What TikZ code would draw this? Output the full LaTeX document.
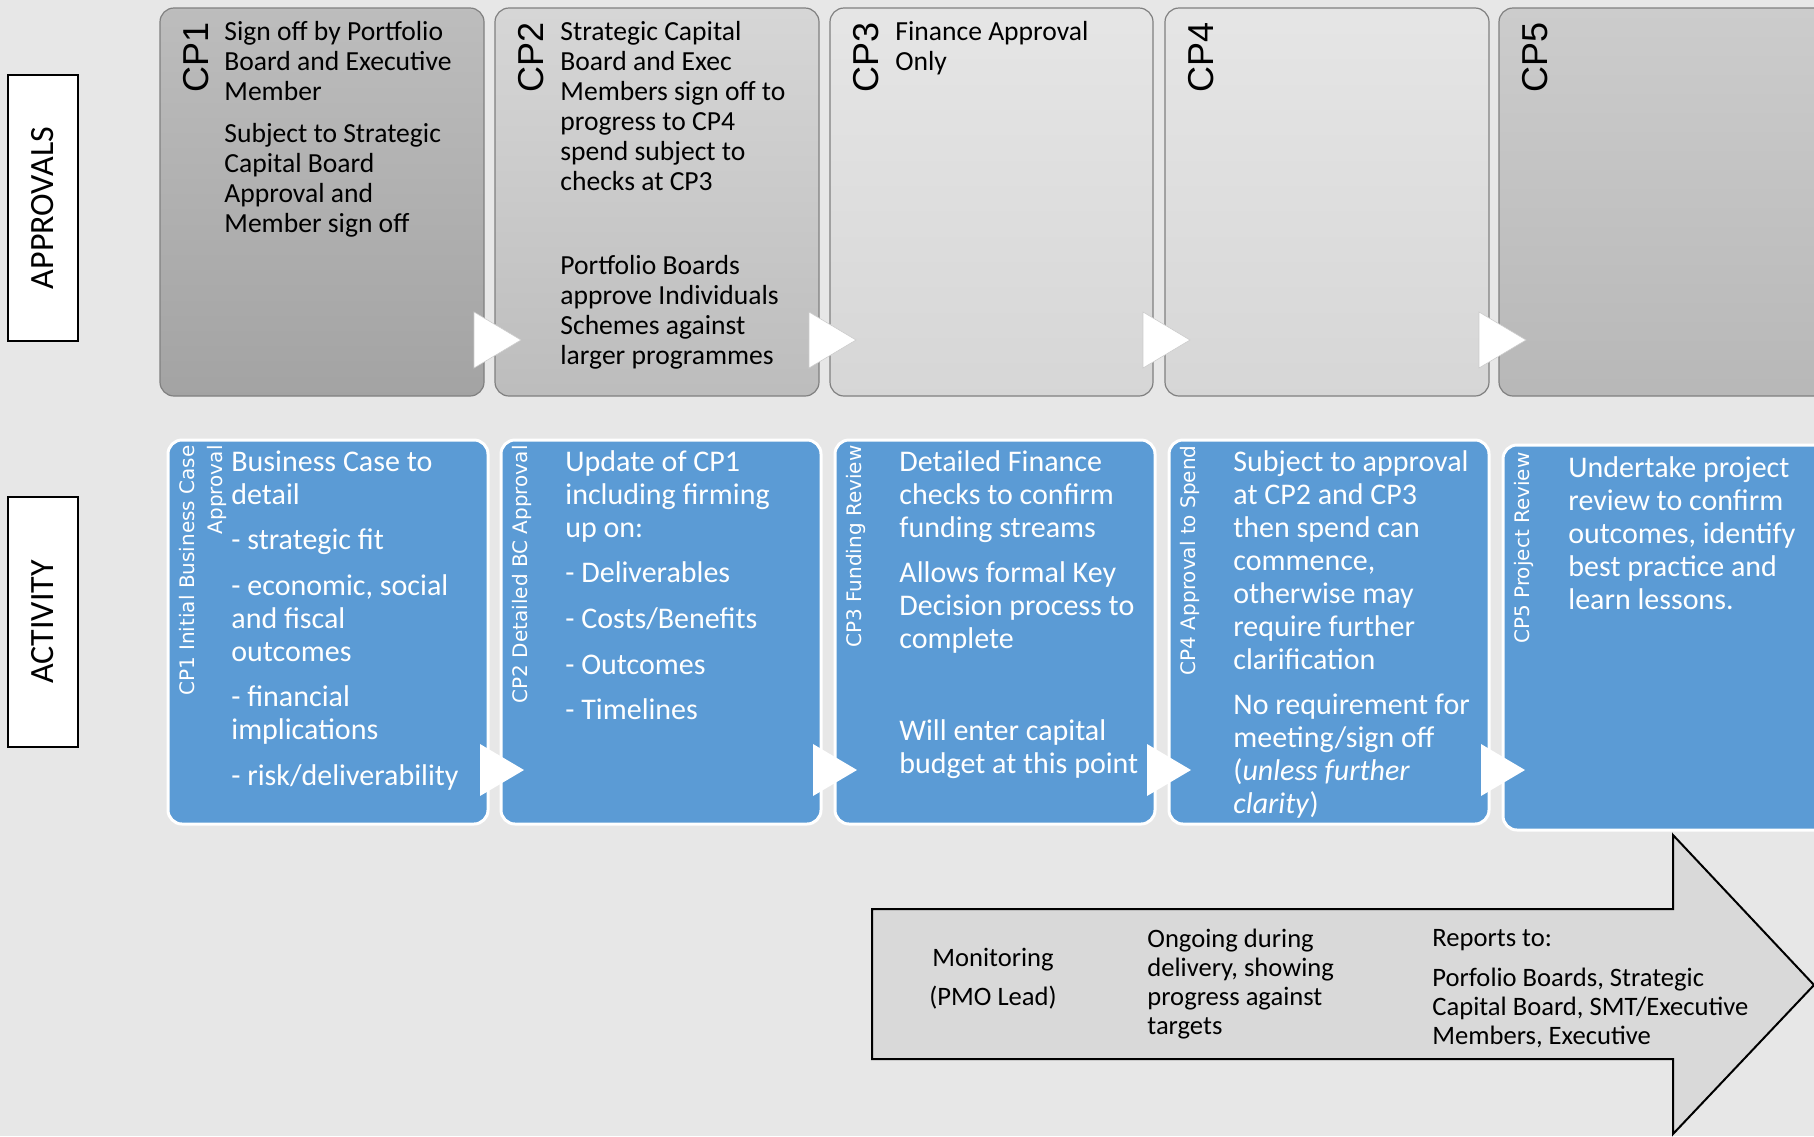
\documentclass[tikz,border=0pt]{standalone}
\usepackage{fontspec}
\setmainfont{Carlito}
\newfontfamily\cpfont{Liberation Sans}
\newfontfamily\tabfont{DejaVu Sans}
\usetikzlibrary{positioning}

\definecolor{bgcol}{RGB}{231,231,231}
\definecolor{actblue}{RGB}{91,155,213}
\definecolor{boxedge}{RGB}{128,128,128}

\tikzset{
  apbox/.style={draw=boxedge, rounded corners=7pt, line width=0.6pt},
  actbox/.style={fill=actblue, draw=white, line width=1.5pt, rounded corners=7pt},
  cplabel/.style={rotate=90, anchor=east, inner sep=0pt, font=\cpfont\fontsize{18}{18}\selectfont},
  tablabel/.style={rotate=90, anchor=north east, inner sep=0pt, align=right, text=white, font=\tabfont\fontsize{10}{14}\selectfont},
  aptext/.style={anchor=north west, inner sep=0pt, align=left, font=\fontsize{13.8}{15}\selectfont},
  acttext/.style={anchor=north west, inner sep=0pt, align=left, text=white, font=\fontsize{15}{16.5}\selectfont},
  montext/.style={anchor=north west, inner sep=0pt, align=left, font=\fontsize{13.3}{14.5}\selectfont},
  chev/.style={fill=white, draw=gray!40, line width=0.3pt},
  sidebox/.style={draw=black, fill=white, line width=0.8pt},
  sidetext/.style={rotate=90, inner sep=0pt, font=\fontsize{17}{17}\selectfont}
}

\begin{document}
\begin{tikzpicture}[x=0.5pt, y=-0.5pt]
      \fill[bgcol] (0,0) rectangle (1814,1136);
      \path[use as bounding box] (0,0) rectangle (1814,1136);
      \clip (0,0) rectangle (1814,1136);

      % side labels
      \draw[sidebox] (8,75) rectangle (78,341);
      \node[sidetext] (approvals) at (43,208) {APPROVALS};
      \draw[sidebox] (8,497) rectangle (78,747);
      \node[sidetext] (activity) at (43,622) {ACTIVITY};

      % approvals row
      \draw[apbox, top color=black!26, bottom color=black!36] (160,8) rectangle (484,396);
      \draw[apbox, top color=black!16, bottom color=black!26] (495,8) rectangle (819,396);
      \draw[apbox, top color=black!10, bottom color=black!16] (830,8) rectangle (1153,396);
      \draw[apbox, top color=black!10, bottom color=black!16] (1165,8) rectangle (1489,396);
      \draw[apbox, top color=black!20, bottom color=black!28] (1499,8) rectangle (1840,396);

      \foreach \r in {484,819,1153,1489}
        \draw[chev] (\r-10,312) -- (\r+37,340) -- (\r-10,368) -- cycle;

      \node[cplabel] (cp1) at (196,22) {CP1};
      \node[cplabel] (cp2) at (531,22) {CP2};
      \node[cplabel] (cp3) at (866,22) {CP3};
      \node[cplabel] (cp4) at (1201,22) {CP4};
      \node[cplabel] (cp5) at (1535,22) {CP5};

      \node[aptext] (ap1txt) at (224,20.5) {Sign off by Portfolio\\Board and Executive\\Member\\[6.4pt]Subject to Strategic\\Capital Board\\Approval and\\Member sign off};
      \node[aptext] (ap2txt) at (560,20.5) {Strategic Capital\\Board and Exec\\Members sign off to\\progress to CP4\\spend subject to\\checks at CP3\\[27pt]Portfolio Boards\\approve Individuals\\Schemes against\\larger programmes};
      \node[aptext] (ap3txt) at (895,20.5) {Finance Approval\\Only};

      % activity row
      \draw[actbox] (168,440) rectangle (488,824);
      \draw[actbox] (501,440) rectangle (821,824);
      \draw[actbox] (835,440) rectangle (1155,824);
      \draw[actbox] (1169,440) rectangle (1489,824);
      \draw[actbox] (1503,445) rectangle (1840,830);

      \foreach \r in {488,821,1155,1489}
        \fill[white] (\r-8,744) -- (\r+36,770) -- (\r-8,796) -- cycle;

      \node[tablabel] (tab1) at (179,445) {CP1 Initial Business Case\\Approval};
      \node[tablabel] (tab2) at (512,445) {CP2 Detailed BC Approval};
      \node[tablabel] (tab3) at (846,445) {CP3 Funding Review};
      \node[tablabel] (tab4) at (1180,445) {CP4 Approval to Spend};
      \node[tablabel] (tab5) at (1514,452) {CP5 Project Review};

      \node[acttext] (act1txt) at (231,450) {Business Case to\\detail\\[6.3pt]- strategic fit\\[6.3pt]- economic, social\\and fiscal\\outcomes\\[6.3pt]- financial\\implications\\[6.3pt]- risk/deliverability};
      \node[acttext] (act2txt) at (565,450) {Update of CP1\\including firming\\up on:\\[6.3pt]- Deliverables\\[6.3pt]- Costs/Benefits\\[6.3pt]- Outcomes\\[6.3pt]- Timelines};
      \node[acttext] (act3txt) at (899,450) {Detailed Finance\\checks to confirm\\funding streams\\[6.3pt]Allows formal Key\\Decision process to\\complete\\[29.5pt]Will enter capital\\budget at this point};
      \node[acttext] (act4txt) at (1233,450) {Subject to approval\\at CP2 and CP3\\then spend can\\commence,\\otherwise may\\require further\\clarification\\[6.3pt]No requirement for\\meeting/sign off\\(\textit{unless further}\\\textit{clarity})};
      \node[acttext] (act5txt) at (1568,456) {Undertake project\\review to confirm\\outcomes, identify\\best practice and\\learn lessons.};

      % monitoring arrow
      \draw[line width=1pt, fill=black!15] (872,909) -- (1673,909) -- (1673,835) -- (1814,985)
            -- (1673,1134) -- (1673,1059) -- (872,1059) -- cycle;

      \node[montext, anchor=north, align=center] (montxt) at (993,948) {Monitoring\\[5pt](PMO Lead)};
      \node[montext] (ongoing) at (1147,929) {Ongoing during\\delivery, showing\\progress against\\targets};
      \node[montext] (reports) at (1432,929) {Reports to:\\[5.5pt]Porfolio Boards, Strategic\\Capital Board, SMT/Executive\\Members, Executive};
\end{tikzpicture}
\end{document}
